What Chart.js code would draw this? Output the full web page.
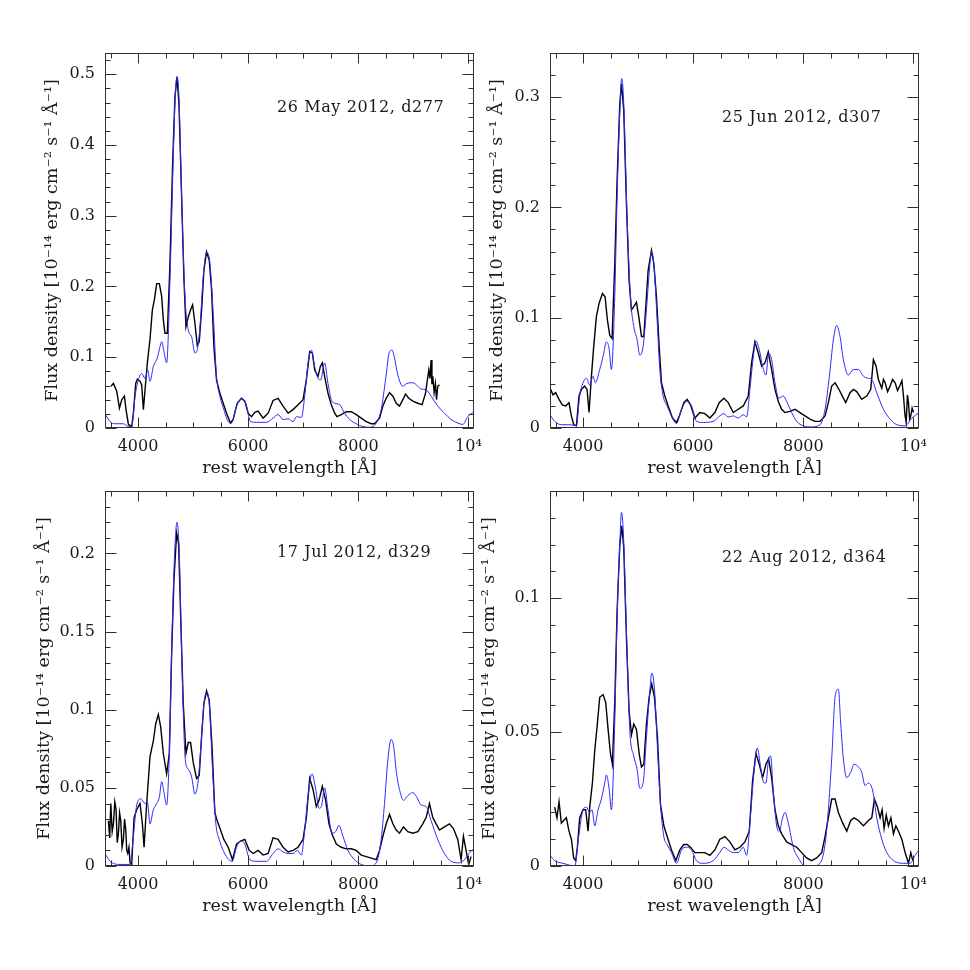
<!DOCTYPE html>
<html>
<head>
<meta charset="utf-8">
<script src="https://cdn.jsdelivr.net/npm/chart.js@4/dist/chart.umd.min.js"></script>
<style>
html,body{margin:0;padding:0;background:#fff;}
#wrap{position:relative;width:970px;height:970px;background:#fff;}
.panel{position:absolute;width:485px;height:485px;}
</style>
</head>
<body>
<div id="wrap">
  <div class="panel" style="left:0px;top:0px"><canvas id="c0" width="485" height="485"></canvas></div>
  <div class="panel" style="left:445px;top:0px"><canvas id="c1" width="485" height="485"></canvas></div>
  <div class="panel" style="left:0px;top:438px"><canvas id="c2" width="485" height="485"></canvas></div>
  <div class="panel" style="left:445px;top:438px"><canvas id="c3" width="485" height="485"></canvas></div>
</div>
<script>
// ---------------- DATA ----------------
const panelLabels = ["26 May 2012, d277", "25 Jun 2012, d307", "17 Jul 2012, d329", "22 Aug 2012, d364"];
const xTickValues = [4000, 6000, 8000, 10000];
const xTickLabels = ["4000", "6000", "8000", "10\u2074"];
const yTicksTL = [0, 0.1, 0.2, 0.3, 0.4, 0.5];
const yTicksTR = [0, 0.1, 0.2, 0.3];
const yTicksBL = [0, 0.05, 0.1, 0.15, 0.2];
const yTicksBR = [0, 0.05, 0.1];
const yTitle = "Flux density [10\u207B\u00B9\u2074 erg cm\u207B\u00B2 s\u207B\u00B9 \u00C5\u207B\u00B9]";
const xTitle = "rest wavelength [\u00C5]";

// Panel 1: 26 May 2012, d277 -- observed (black)
const obsWaveTL = [3510,3553,3613,3662,3704,3752,3782,3825,3885,3915,3958,3988,4036,4066,4097,4127,4169,4217,4260,4296,4338,4387,4429,4459,4489,4532,4580,4628,4670,4707,4743,4791,4834,4870,4912,4954,4991,5033,5075,5111,5154,5196,5244,5293,5335,5377,5425,5486,5546,5607,5679,5727,5800,5878,5939,5999,6060,6120,6180,6271,6362,6452,6543,6633,6724,6815,6905,6996,7056,7117,7165,7207,7268,7310,7346,7388,7449,7509,7570,7612,7690,7781,7872,7962,8053,8143,8234,8294,8385,8445,8506,8566,8627,8687,8747,8808,8856,8916,8989,9080,9158,9219,9279,9300,9321,9336,9352,9376,9400,9420,9442,9473];
const obsFluxTL = [0.059,0.063,0.052,0.028,0.040,0.045,0.026,0.005,0.002,0.021,0.063,0.069,0.066,0.061,0.026,0.054,0.092,0.125,0.167,0.181,0.204,0.204,0.186,0.153,0.134,0.134,0.233,0.374,0.468,0.496,0.458,0.327,0.209,0.143,0.157,0.167,0.174,0.148,0.117,0.122,0.167,0.223,0.249,0.237,0.195,0.115,0.068,0.049,0.035,0.021,0.007,0.012,0.035,0.042,0.038,0.021,0.016,0.022,0.024,0.014,0.021,0.039,0.042,0.031,0.021,0.026,0.033,0.040,0.068,0.108,0.106,0.082,0.073,0.087,0.092,0.073,0.049,0.033,0.021,0.016,0.019,0.023,0.023,0.019,0.014,0.009,0.006,0.006,0.014,0.031,0.042,0.050,0.045,0.035,0.031,0.040,0.048,0.042,0.038,0.035,0.033,0.049,0.082,0.070,0.096,0.062,0.073,0.050,0.063,0.040,0.059,0.061];
// Panel 1 -- model (blue)
const modWaveTL = [3400,3493,3583,3734,3825,3885,3946,4006,4066,4127,4175,4217,4278,4350,4399,4429,4471,4519,4580,4628,4670,4707,4743,4791,4852,4912,4973,5033,5081,5124,5184,5244,5305,5365,5425,5486,5558,5637,5697,5788,5878,5957,6042,6150,6331,6452,6543,6633,6724,6815,6875,6966,7026,7087,7147,7207,7268,7316,7388,7449,7509,7570,7660,7751,7842,7962,8083,8204,8324,8415,8494,8566,8614,8657,8717,8808,8880,8989,9080,9140,9231,9321,9442,9563,9684,9805,9896,9986,10100];
const modFluxTL = [0.020,0.009,0.006,0.006,0.002,0.002,0.045,0.068,0.077,0.070,0.082,0.066,0.087,0.099,0.115,0.122,0.108,0.092,0.209,0.350,0.458,0.497,0.468,0.327,0.186,0.139,0.129,0.106,0.113,0.143,0.214,0.248,0.233,0.162,0.073,0.045,0.026,0.009,0.007,0.031,0.041,0.035,0.009,0.008,0.008,0.014,0.019,0.012,0.013,0.009,0.016,0.015,0.045,0.092,0.110,0.087,0.070,0.068,0.092,0.063,0.040,0.035,0.033,0.021,0.012,0.006,0.002,0.001,0.007,0.026,0.068,0.108,0.110,0.099,0.075,0.059,0.063,0.064,0.059,0.055,0.054,0.045,0.031,0.021,0.012,0.007,0.005,0.016,0.023];

// Panel 2: 25 Jun 2012, d307
const obsWaveTR = [3412,3455,3503,3564,3624,3685,3745,3788,3830,3879,3927,3970,4030,4073,4109,4152,4194,4242,4291,4352,4400,4442,4485,4527,4576,4618,4667,4697,4739,4788,4836,4879,4921,4970,5012,5061,5103,5139,5182,5242,5285,5333,5382,5424,5485,5545,5624,5697,5757,5830,5891,5951,6030,6121,6212,6303,6394,6472,6557,6636,6727,6818,6909,7000,7060,7121,7182,7242,7303,7363,7424,7485,7545,7606,7666,7757,7848,7939,8030,8121,8212,8303,8394,8454,8515,8576,8636,8697,8769,8848,8909,8969,9060,9151,9224,9272,9321,9363,9424,9455,9485,9530,9576,9620,9667,9710,9757,9790,9818,9845,9867,9890,9909,9930,9951,9975,10000];
const obsFluxTR = [0.035,0.030,0.032,0.026,0.021,0.020,0.023,0.011,0.003,0.002,0.029,0.035,0.038,0.035,0.014,0.047,0.074,0.101,0.113,0.122,0.119,0.098,0.084,0.081,0.149,0.224,0.294,0.312,0.288,0.203,0.134,0.107,0.110,0.114,0.101,0.083,0.083,0.110,0.143,0.161,0.149,0.119,0.074,0.041,0.029,0.020,0.009,0.005,0.012,0.023,0.026,0.021,0.009,0.014,0.013,0.009,0.014,0.023,0.027,0.023,0.014,0.017,0.020,0.029,0.059,0.078,0.068,0.056,0.059,0.069,0.053,0.035,0.024,0.017,0.014,0.015,0.017,0.014,0.011,0.008,0.006,0.006,0.011,0.023,0.038,0.041,0.036,0.030,0.023,0.032,0.035,0.033,0.026,0.029,0.035,0.062,0.056,0.044,0.036,0.044,0.041,0.033,0.038,0.044,0.041,0.034,0.039,0.043,0.029,0.012,0.005,0.030,0.023,0.008,0.011,0.018,0.014];
const modWaveTR = [3400,3485,3606,3758,3879,3939,4000,4061,4121,4182,4224,4303,4364,4424,4473,4515,4576,4618,4667,4703,4739,4800,4861,4921,4982,5030,5091,5151,5200,5242,5285,5345,5394,5454,5527,5606,5697,5788,5879,5970,6060,6182,6363,6484,6557,6636,6727,6818,6909,6970,7030,7079,7139,7200,7260,7321,7370,7424,7485,7557,7636,7697,7788,7879,8000,8151,8303,8394,8473,8545,8606,8666,8727,8818,8909,9000,9091,9182,9242,9333,9454,9576,9697,9848,9970,10100];
const modFluxTR = [0.012,0.006,0.003,0.003,0.002,0.029,0.041,0.045,0.039,0.047,0.041,0.053,0.065,0.078,0.072,0.053,0.119,0.209,0.285,0.317,0.294,0.191,0.119,0.092,0.080,0.066,0.074,0.107,0.140,0.160,0.149,0.098,0.053,0.029,0.020,0.011,0.004,0.017,0.024,0.020,0.006,0.005,0.006,0.011,0.013,0.010,0.011,0.009,0.012,0.010,0.035,0.059,0.079,0.071,0.056,0.048,0.068,0.062,0.041,0.027,0.029,0.024,0.014,0.006,0.002,0.001,0.003,0.017,0.047,0.080,0.093,0.083,0.062,0.048,0.053,0.053,0.047,0.045,0.044,0.032,0.017,0.008,0.003,0.002,0.009,0.014];

// Panel 3: 17 Jul 2012, d329
const obsWaveBL = [3462,3485,3505,3530,3553,3578,3601,3622,3644,3665,3686,3710,3734,3755,3777,3795,3813,3835,3855,3885,3928,3976,4036,4079,4109,4157,4217,4278,4320,4368,4411,4459,4519,4568,4610,4652,4701,4737,4773,4821,4870,4912,4954,5003,5063,5111,5154,5196,5244,5293,5341,5395,5438,5498,5558,5637,5715,5788,5860,5939,6018,6090,6180,6271,6362,6452,6543,6633,6724,6815,6905,6996,7056,7117,7177,7237,7286,7346,7406,7467,7527,7600,7690,7781,7872,7962,8053,8143,8234,8324,8385,8445,8506,8566,8627,8687,8747,8820,8898,8989,9080,9170,9231,9291,9352,9412,9473,9563,9654,9726,9805,9866,9908,9956,10004,10046];
const obsFluxBL = [0.029,0.018,0.040,0.022,0.027,0.041,0.036,0.015,0.021,0.034,0.029,0.012,0.017,0.030,0.023,0.010,0.008,0.012,0.002,0.001,0.031,0.036,0.040,0.027,0.012,0.040,0.070,0.080,0.091,0.097,0.089,0.072,0.059,0.072,0.136,0.183,0.213,0.206,0.161,0.104,0.072,0.079,0.079,0.066,0.056,0.058,0.083,0.104,0.112,0.106,0.078,0.034,0.029,0.023,0.017,0.012,0.004,0.014,0.016,0.017,0.010,0.008,0.010,0.007,0.008,0.018,0.017,0.012,0.009,0.010,0.012,0.017,0.031,0.056,0.049,0.038,0.042,0.051,0.042,0.027,0.020,0.014,0.012,0.011,0.011,0.010,0.007,0.006,0.005,0.004,0.010,0.019,0.027,0.033,0.027,0.023,0.021,0.025,0.022,0.021,0.022,0.027,0.031,0.040,0.031,0.027,0.023,0.025,0.027,0.024,0.017,0.004,0.019,0.010,0.001,0.006];
const modWaveBL = [3400,3493,3674,3855,3915,3976,4048,4127,4169,4217,4278,4338,4387,4429,4471,4519,4568,4616,4664,4707,4749,4797,4858,4912,4973,5033,5093,5154,5196,5244,5293,5353,5413,5474,5546,5625,5709,5788,5860,5939,6030,6150,6331,6452,6543,6633,6724,6815,6893,6966,7026,7087,7159,7226,7286,7328,7388,7449,7521,7588,7648,7721,7811,7932,8053,8204,8324,8415,8475,8536,8596,8644,8687,8747,8820,8898,8989,9062,9140,9231,9321,9442,9563,9684,9835,9925,10004,10100];
const modFluxBL = [0.008,0.003,0.001,0.001,0.019,0.039,0.043,0.040,0.041,0.027,0.036,0.040,0.044,0.054,0.047,0.039,0.072,0.146,0.200,0.220,0.200,0.129,0.068,0.062,0.057,0.046,0.055,0.083,0.104,0.111,0.104,0.061,0.027,0.017,0.010,0.005,0.003,0.012,0.016,0.014,0.004,0.003,0.003,0.008,0.011,0.009,0.008,0.008,0.010,0.007,0.023,0.045,0.059,0.049,0.037,0.038,0.050,0.036,0.021,0.022,0.026,0.019,0.010,0.004,0.001,0.000,0.002,0.017,0.040,0.068,0.081,0.076,0.061,0.049,0.042,0.045,0.047,0.044,0.039,0.038,0.029,0.017,0.008,0.003,0.002,0.004,0.008,0.011];

// Panel 4: 22 Aug 2012, d364
const obsWaveBR = [3485,3527,3564,3606,3649,3697,3745,3788,3830,3867,3897,3939,4000,4048,4091,4121,4170,4212,4255,4303,4364,4412,4455,4497,4533,4576,4618,4667,4703,4739,4788,4836,4879,4921,4970,5018,5061,5103,5151,5200,5248,5297,5351,5406,5467,5527,5606,5685,5757,5830,5891,5951,6030,6121,6212,6303,6394,6484,6576,6666,6757,6848,6939,7018,7079,7139,7200,7260,7321,7370,7424,7485,7545,7606,7697,7788,7879,7970,8060,8151,8242,8333,8394,8454,8515,8576,8636,8715,8788,8860,8921,9000,9091,9182,9242,9291,9345,9394,9430,9466,9505,9545,9590,9636,9680,9727,9788,9848,9909,9951,9987];
const obsFluxBR = [0.022,0.018,0.024,0.016,0.017,0.018,0.013,0.010,0.003,0.002,0.007,0.018,0.021,0.021,0.013,0.022,0.031,0.043,0.052,0.063,0.064,0.061,0.051,0.042,0.038,0.061,0.095,0.120,0.127,0.119,0.085,0.058,0.049,0.053,0.051,0.042,0.037,0.038,0.053,0.063,0.068,0.063,0.048,0.023,0.015,0.011,0.006,0.002,0.006,0.008,0.008,0.007,0.005,0.005,0.005,0.004,0.006,0.010,0.011,0.009,0.006,0.007,0.009,0.013,0.032,0.042,0.038,0.033,0.038,0.040,0.033,0.021,0.015,0.012,0.009,0.008,0.007,0.005,0.003,0.002,0.003,0.005,0.011,0.018,0.025,0.025,0.020,0.016,0.013,0.017,0.018,0.017,0.015,0.017,0.018,0.025,0.022,0.018,0.021,0.014,0.019,0.015,0.018,0.012,0.015,0.013,0.010,0.005,0.001,0.005,0.002];
const modWaveBR = [3400,3485,3636,3849,3921,4000,4061,4121,4164,4212,4273,4333,4394,4424,4473,4515,4576,4618,4667,4697,4733,4788,4848,4921,4982,5030,5091,5151,5200,5248,5297,5351,5406,5467,5527,5606,5697,5788,5879,5970,6060,6182,6363,6484,6557,6636,6727,6818,6909,6970,7030,7091,7164,7224,7285,7321,7370,7406,7454,7515,7563,7624,7666,7727,7818,7909,8030,8181,8303,8394,8454,8515,8576,8636,8679,8727,8788,8860,8921,9000,9060,9121,9182,9260,9333,9424,9515,9636,9818,9939,10030,10100];
const modFluxBR = [0.004,0.002,0.001,0.000,0.011,0.021,0.022,0.020,0.021,0.015,0.021,0.025,0.031,0.034,0.029,0.021,0.054,0.092,0.120,0.132,0.124,0.088,0.051,0.041,0.036,0.029,0.031,0.048,0.062,0.072,0.066,0.044,0.023,0.011,0.008,0.005,0.001,0.006,0.007,0.006,0.002,0.001,0.002,0.005,0.007,0.006,0.005,0.005,0.007,0.004,0.016,0.032,0.044,0.037,0.031,0.031,0.040,0.041,0.028,0.015,0.013,0.018,0.020,0.016,0.007,0.003,0.000,0.000,0.001,0.008,0.021,0.040,0.063,0.066,0.053,0.040,0.033,0.035,0.038,0.037,0.035,0.030,0.031,0.028,0.018,0.010,0.005,0.002,0.001,0.001,0.004,0.006];

// ---------------- RENDERING ----------------
const FONT = '"DejaVu Serif", "Liberation Serif", serif';
const TEXT_COLOR = '#1a1a1a';

const frameTicksPlugin = {
  id: 'frameTicks',
  afterDatasetsDraw(chart, args, opts) {
    const {ctx, chartArea: a, scales} = chart;
    const x = scales.x, y = scales.y;
    const L = Math.round(a.left) + 0.5, R = Math.round(a.right) - 0.5;
    const T = Math.round(a.top) + 0.5, B = Math.round(a.bottom) - 0.5;
    ctx.save();
    ctx.strokeStyle = '#303030';
    ctx.lineWidth = 1;
    ctx.beginPath();
    const nx = Math.round((x.max - x.min) / opts.xMinor) + 2;
    const x0 = Math.ceil(x.min / opts.xMinor) * opts.xMinor;
    for (let i = 0; i < nx; i++) {
      const v = x0 + i * opts.xMinor;
      if (v > x.max) break;
      const px = Math.round(x.getPixelForValue(v)) + 0.5;
      const len = (v % opts.xMajor === 0) ? 10 : 5;
      ctx.moveTo(px, B); ctx.lineTo(px, B - len);
      ctx.moveTo(px, T); ctx.lineTo(px, T + len);
    }
    const ny = Math.round((y.max - y.min) / opts.yMinor) + 1;
    for (let i = 0; i <= ny; i++) {
      const v = y.min + i * opts.yMinor;
      if (v > y.max + 1e-9) break;
      const r = v / opts.yMajor;
      const major = Math.abs(r - Math.round(r)) < 1e-6;
      const py = Math.round(y.getPixelForValue(v)) + 0.5;
      const len = major ? 11 : 5;
      ctx.moveTo(L, py); ctx.lineTo(L + len, py);
      ctx.moveTo(R, py); ctx.lineTo(R - len, py);
    }
    ctx.stroke();
    ctx.strokeRect(L, T, R - L, B - T);
    ctx.restore();
  }
};

const labelPlugin = {
  id: 'panelLabel',
  afterDraw(chart, args, opts) {
    const {ctx, chartArea: a} = chart;
    ctx.save();
    ctx.font = '16px ' + FONT;
    ctx.fillStyle = TEXT_COLOR;
    ctx.textBaseline = 'middle';
    ctx.textAlign = 'left';
    try { ctx.letterSpacing = '0.6px'; } catch (e) {}
    ctx.fillText(opts.text, a.left + opts.dx, a.top + opts.dy);
    ctx.restore();
  }
};

function makePanel(id, obsW, obsF, modW, modF, yMax, yTicks, yMinor, yMajor, label, labelDy, yTitlePad) {
  const obs = obsW.map((w, i) => ({x: w, y: obsF[i]}));
  const mod = modW.map((w, i) => ({x: w, y: modF[i]}));
  return new Chart(document.getElementById(id), {
    type: 'line',
    data: {
      datasets: [
        {label: 'model', data: mod, borderColor: '#2b2bff', borderWidth: 1, pointRadius: 0,
         cubicInterpolationMode: 'monotone', fill: false},
        {label: 'observed', data: obs, borderColor: '#000000', borderWidth: 1.4, pointRadius: 0,
         tension: 0, fill: false}
      ]
    },
    options: {
      responsive: false,
      animation: false,
      events: [],
      layout: {padding: {top: 53, right: 11, left: 0, bottom: 0}},
      plugins: {
        legend: {display: false},
        tooltip: {enabled: false},
        frameTicks: {xMinor: 500, xMajor: 2000, yMinor: yMinor, yMajor: yMajor},
        panelLabel: {text: label, dx: 172, dy: labelDy}
      },
      scales: {
        x: {
          type: 'linear', min: 3400, max: 10100,
          afterBuildTicks: s => { s.ticks = xTickValues.map(v => ({value: v})); },
          afterFit: s => { s.height = 57; s.paddingLeft = 0; s.paddingRight = 0; },
          grid: {display: false, drawTicks: false},
          border: {display: false},
          ticks: {
            padding: 9, color: TEXT_COLOR, maxRotation: 0, autoSkip: false,
            font: {family: FONT, size: 16},
            callback: v => xTickLabels[xTickValues.indexOf(v)]
          },
          title: {display: true, text: xTitle, color: TEXT_COLOR,
                  font: {family: FONT, size: 17.5}, padding: {top: 0, bottom: 6}}
        },
        y: {
          type: 'linear', min: 0, max: yMax,
          afterBuildTicks: s => { s.ticks = yTicks.map(v => ({value: v})); },
          afterFit: s => { s.width = 105; s.paddingTop = 0; s.paddingBottom = 0; },
          grid: {display: false, drawTicks: false},
          border: {display: false},
          ticks: {padding: 10, color: TEXT_COLOR, font: {family: FONT, size: 16},
                  callback: v => String(v)},
          title: {display: true, text: yTitle, color: TEXT_COLOR,
                  font: {family: FONT, size: 17.5}, padding: {top: yTitlePad, bottom: 0}}
        }
      }
    },
    plugins: [frameTicksPlugin, labelPlugin]
  });
}

makePanel('c0', obsWaveTL, obsFluxTL, modWaveTL, modFluxTL, 0.53, yTicksTL, 0.02, 0.1, panelLabels[0], 55, 41.5);
makePanel('c1', obsWaveTR, obsFluxTR, modWaveTR, modFluxTR, 0.34, yTicksTR, 0.02, 0.1, panelLabels[1], 65, 41.5);
makePanel('c2', obsWaveBL, obsFluxBL, modWaveBL, modFluxBL, 0.24, yTicksBL, 0.01, 0.05, panelLabels[2], 62, 33.5);
makePanel('c3', obsWaveBR, obsFluxBR, modWaveBR, modFluxBR, 0.14, yTicksBR, 0.01, 0.05, panelLabels[3], 67, 33.5);
</script>
</body>
</html>
